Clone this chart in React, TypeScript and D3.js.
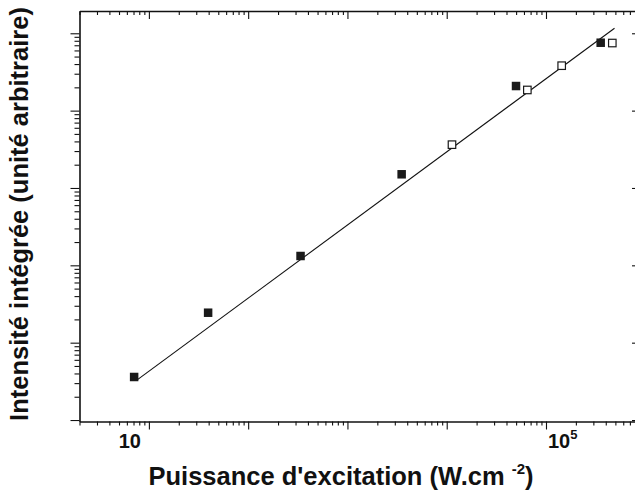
import React, { useEffect, useRef } from 'react';
import * as d3 from 'd3';

// values (arbitrary units on y)
const filledX = [7.1, 39.5, 337, 3516, 49900, 355600];
const filledY = [3.6, 24.4, 132, 1503, 20800, 75500];
const openX = [11300, 64900, 143900, 465600];
const openY = [3630, 18500, 38100, 74800];
const fitX = [7.5, 490000];
const fitY = [3.25, 116000];

const xDecades = [0, 1, 2, 3, 4, 5];
const yDecades = [-1, 0, 1, 2, 3, 4, 5];
const mults = [1, 2, 3, 4, 5, 6, 7, 8, 9];

const W = 635;
const H = 494;

const App: React.FC = () => {
  const svgRef = useRef<SVGSVGElement>(null);

  useEffect(() => {
    if (!svgRef.current) return;
    const svg = d3.select(svgRef.current);
    svg.selectAll('*').remove();

    const left = 79.5, right = 640, top = 11, bottom = 421.5;

    const x = d3.scaleLog().domain([2, 885000]).range([left, right]);
    const y = d3.scaleLog().domain([0.957, 194100]).range([bottom, top]);

    const [x0, x1] = x.domain();
    const [y0, y1] = y.domain();
    const xTicks = xDecades.flatMap(k => mults.map(m => m * Math.pow(10, k)))
      .filter(v => v >= x0 * 0.999 && v <= x1);
    const yTicks = yDecades.flatMap(k => mults.map(m => m * Math.pow(10, k)))
      .filter(v => v >= y0 && v <= y1);
    const isMajor = (v: number) => Math.abs(Math.log10(v) - Math.round(Math.log10(v))) < 1e-9;

    const styleAxis = (g: d3.Selection<SVGGElement, unknown, null, undefined>) => {
      g.select('.domain').attr('stroke', '#111').attr('stroke-width', 1.6);
      g.selectAll('.tick line').attr('stroke', '#111').attr('stroke-width', 1.1);
      g.selectAll('.tick text').remove();
    };

    // bottom axis, ticks outward
    const gb = svg.append('g')
      .attr('transform', `translate(0,${bottom})`)
      .call(d3.axisBottom(x).tickValues(xTicks).tickSize(4).tickSizeOuter(0).tickFormat(() => ''));
    styleAxis(gb);
    gb.selectAll<SVGLineElement, number>('.tick line').attr('y2', d => isMajor(d) ? 8 : 4);

    // top axis, ticks inward
    const gt = svg.append('g')
      .attr('transform', `translate(0,${top})`)
      .call(d3.axisTop(x).tickValues(xTicks).tickSize(-4).tickSizeOuter(0).tickFormat(() => ''));
    styleAxis(gt);
    gt.selectAll<SVGLineElement, number>('.tick line').attr('y2', d => isMajor(d) ? 8 : 4);

    // left axis, ticks outward
    const gl = svg.append('g')
      .attr('transform', `translate(${left},0)`)
      .call(d3.axisLeft(y).tickValues(yTicks).tickSize(5).tickSizeOuter(0).tickFormat(() => ''));
    styleAxis(gl);
    gl.selectAll<SVGLineElement, number>('.tick line').attr('x2', d => isMajor(d) ? -9 : -5);

    // right axis, ticks inward
    const gr = svg.append('g')
      .attr('transform', `translate(${right},0)`)
      .call(d3.axisRight(y).tickValues(yTicks).tickSize(-4).tickSizeOuter(0).tickFormat(() => ''));
    styleAxis(gr);
    gr.selectAll<SVGLineElement, number>('.tick line').attr('x2', d => isMajor(d) ? -8 : -4);

    // tick labels (only 10 and 10^5 shown)
    const font = '"Liberation Sans", Arial, Helvetica, sans-serif';
    svg.append('text')
      .attr('x', x(10) - 19)
      .attr('y', 448)
      .attr('text-anchor', 'middle')
      .attr('font-family', font)
      .attr('font-weight', 'bold')
      .attr('font-size', 20)
      .attr('fill', '#111')
      .text('10');

    const t5 = svg.append('text')
      .attr('x', x(1e5) + 2)
      .attr('y', 448)
      .attr('font-family', font)
      .attr('font-weight', 'bold')
      .attr('font-size', 20)
      .attr('fill', '#111');
    t5.append('tspan').text('10');
    t5.append('tspan').attr('font-size', 13).attr('dy', -9).text('5');

    // fit line
    const line = d3.line<number>()
      .x((_, i) => x(fitX[i]))
      .y(d => y(d));
    svg.append('path')
      .datum(fitY)
      .attr('d', line)
      .attr('fill', 'none')
      .attr('stroke', '#111')
      .attr('stroke-width', 1.1);

    const s = 8.5;
    // filled squares
    svg.append('g').selectAll('rect')
      .data(filledY)
      .enter()
      .append('rect')
      .attr('x', (_, i) => x(filledX[i]) - s / 2)
      .attr('y', d => y(d) - s / 2)
      .attr('width', s)
      .attr('height', s)
      .attr('fill', '#1a1a1a');

    // open squares
    svg.append('g').selectAll('rect')
      .data(openY)
      .enter()
      .append('rect')
      .attr('x', (_, i) => x(openX[i]) - s / 2 + 0.5)
      .attr('y', d => y(d) - s / 2 + 0.5)
      .attr('width', s - 1)
      .attr('height', s - 1)
      .attr('fill', 'white')
      .attr('stroke', '#1a1a1a')
      .attr('stroke-width', 1.2);

    // axis titles
    const xt = svg.append('text')
      .attr('x', 341)
      .attr('y', 485)
      .attr('text-anchor', 'middle')
      .attr('font-family', font)
      .attr('font-weight', 'bold')
      .attr('font-size', 25.5)
      .attr('fill', '#111');
    xt.append('tspan').text("Puissance d'excitation (W.cm ");
    xt.append('tspan').attr('font-size', 15).attr('dy', -11).text('-2');
    xt.append('tspan').attr('dy', 11).text(')');

    svg.append('text')
      .attr('transform', 'translate(28,214) rotate(-90)')
      .attr('text-anchor', 'middle')
      .attr('font-family', font)
      .attr('font-weight', 'bold')
      .attr('font-size', 25.5)
      .attr('fill', '#111')
      .text('Intensité intégrée (unité arbitraire)');
  }, []);

  return (
    <div style={{ position: 'absolute', left: 0, top: 0, width: W, height: H, background: 'white', overflow: 'hidden' }}>
      <svg ref={svgRef} width={W} height={H} />
    </div>
  );
};

export default App;
